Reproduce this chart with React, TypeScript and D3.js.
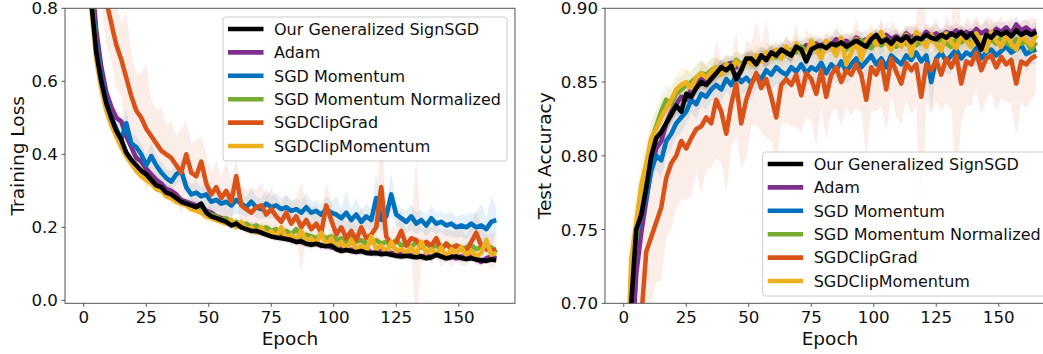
import React from "react";
import * as d3 from "d3";

const epochs = d3.range(1, 166, 2);
const seriesNames = [
  "Our Generalized SignSGD",
  "Adam",
  "SGD Momentum",
  "SGD Momentum Normalized",
  "SGDClipGrad",
  "SGDClipMomentum",
];
const seriesColors = ["#000000", "#7E2F8E", "#0072BD", "#77AC30", "#D95319", "#EDB120"];

// ---------- Training loss (means) ----------
const lossSign = [
  1.10, .82, .68, .60, .54, .50, .465, .44, .405, .385,
  .37, .355, .345, .33, .315, .31, .295, .29, .28, .27,
  .265, .26, .255, .265, .24, .23, .225, .22, .215, .205,
  .21, .20, .195, .19, .19, .185, .18, .175, .172, .17,
  .168, .165, .16, .162, .155, .152, .155, .15, .148, .15,
  .14, .135, .138, .135, .132, .135, .13, .128, .13, .126,
  .128, .125, .122, .12, .122, .12, .118, .12, .115, .118,
  .125, .12, .115, .118, .12, .116, .113, .115, .112, .11,
  .108, .112, .11,
];
const lossAdam = [
  1.2, .9, .74, .64, .57, .53, .50, .49, .45, .42,
  .39, .38, .36, .345, .33, .32, .305, .30, .29, .275,
  .27, .265, .26, .255, .245, .24, .23, .225, .22, .215,
  .21, .205, .20, .20, .19, .195, .185, .18, .185, .175,
  .17, .165, .168, .16, .158, .155, .16, .15, .152, .145,
  .148, .14, .142, .138, .14, .135, .138, .132, .13, .135,
  .128, .13, .125, .128, .13, .122, .125, .12, .122, .118,
  .125, .12, .118, .122, .115, .12, .118, .12, .112, .105,
  .115, .12, .115,
];
const lossMom = [
  1.1, .85, .70, .61, .55, .50, .47, .44, .485, .43,
  .42, .40, .37, .395, .37, .35, .335, .325, .345, .355,
  .31, .29, .295, .285, .29, .27, .275, .265, .27, .26,
  .275, .265, .255, .27, .255, .25, .265, .255, .26, .25,
  .255, .245, .25, .24, .255, .24, .245, .235, .25, .24,
  .235, .225, .24, .22, .235, .215, .23, .22, .28, .22,
  .23, .29, .235, .225, .215, .23, .21, .22, .205, .225,
  .21, .215, .205, .21, .20, .205, .20, .21, .20, .205,
  .195, .215, .22,
];
const lossNorm = [
  1.1, .84, .68, .59, .53, .49, .455, .43, .40, .385,
  .365, .35, .34, .33, .315, .305, .295, .29, .28, .27,
  .265, .26, .25, .245, .24, .235, .23, .22, .225, .21,
  .215, .205, .21, .20, .205, .195, .20, .19, .195, .185,
  .19, .18, .195, .175, .18, .175, .17, .18, .17, .175,
  .165, .17, .16, .175, .16, .165, .155, .16, .165, .155,
  .16, .15, .165, .15, .155, .145, .16, .15, .155, .145,
  .15, .14, .155, .145, .15, .14, .145, .15, .14, .145,
  .14, .145, .13,
];
const lossClipGrad = [
  1.5, 1.25, 1.05, .92, .82, .76, .70, .66, .61, .56,
  .52, .50, .47, .45, .43, .41, .40, .39, .37, .35,
  .40, .35, .34, .38, .32, .29, .31, .28, .30, .27,
  .34, .26, .25, .24, .255, .26, .235, .25, .23, .215,
  .24, .21, .23, .20, .22, .195, .21, .185, .26, .22,
  .18, .20, .17, .19, .165, .20, .17, .18, .20, .31,
  .175, .155, .16, .19, .15, .17, .165, .145, .16, .15,
  .17, .14, .155, .14, .15, .145, .135, .16, .185, .15,
  .14, .135, .14,
];
const lossClipMom = [
  1.05, .80, .66, .58, .52, .48, .45, .42, .395, .375,
  .355, .34, .33, .32, .305, .30, .285, .28, .27, .265,
  .26, .25, .245, .24, .23, .225, .22, .215, .21, .22,
  .20, .215, .195, .20, .185, .20, .18, .19, .175, .20,
  .17, .18, .165, .19, .16, .17, .155, .185, .15, .17,
  .145, .16, .14, .165, .14, .15, .135, .175, .14, .15,
  .13, .16, .135, .14, .13, .145, .125, .16, .13, .14,
  .125, .145, .12, .14, .13, .145, .125, .135, .12, .13,
  .165, .125, .13,
];

// ---------- Training loss (spread) ----------
const lossSignSd = [
  .06, .04, .03, .025, .02, .02, .018, .016, .015, .015,
  .014, .012, .012, .013, .011, .012, .01, .011, .01, .012,
  .01, .011, .01, .012, .01, .009, .011, .01, .009, .01,
  .011, .009, .01, .01, .009, .011, .01, .009, .01, .01,
  .009, .01, .011, .009, .01, .008, .01, .009, .011, .01,
  .009, .01, .008, .01, .009, .011, .009, .008, .01, .009,
  .01, .008, .009, .01, .009, .008, .01, .009, .008, .01,
  .009, .008, .01, .009, .008, .009, .01, .008, .009, .01,
  .008, .009, .008,
];
const lossAdamSd = [
  .08, .05, .04, .03, .025, .022, .02, .018, .017, .016,
  .015, .014, .014, .013, .013, .012, .012, .013, .012, .011,
  .012, .011, .013, .011, .012, .014, .012, .011, .012, .013,
  .012, .011, .012, .014, .011, .013, .011, .012, .015, .012,
  .011, .013, .011, .012, .014, .012, .011, .013, .011, .012,
  .013, .012, .011, .014, .011, .012, .013, .012, .011, .012,
  .011, .013, .012, .012, .011, .014, .011, .012, .013, .012,
  .011, .012, .013, .012, .011, .014, .011, .012, .015, .012,
  .011, .013, .011,
];
const lossMomSd = [
  .08, .05, .04, .035, .03, .03, .03, .03, .04, .03,
  .03, .03, .028, .035, .03, .028, .025, .03, .028, .03,
  .025, .028, .03, .025, .03, .028, .03, .025, .035, .03,
  .04, .03, .028, .035, .03, .028, .04, .03, .035, .03,
  .035, .03, .028, .03, .04, .03, .028, .03, .035, .03,
  .05, .028, .06, .03, .045, .03, .035, .03, .07, .03,
  .035, .06, .03, .028, .03, .035, .03, .028, .03, .035,
  .03, .028, .03, .035, .028, .03, .035, .03, .04, .06,
  .03, .07, .035,
];
const lossNormSd = [
  .08, .05, .04, .03, .025, .022, .02, .018, .016, .015,
  .014, .013, .014, .012, .013, .012, .011, .013, .012, .011,
  .012, .013, .011, .012, .014, .012, .011, .013, .012, .011,
  .013, .012, .011, .014, .012, .011, .013, .012, .011, .012,
  .014, .011, .012, .013, .011, .012, .014, .011, .012, .013,
  .011, .012, .014, .011, .012, .013, .011, .012, .014, .011,
  .012, .013, .011, .012, .014, .011, .012, .013, .011, .012,
  .014, .011, .012, .013, .011, .012, .014, .011, .012, .013,
  .011, .012, .014,
];
const lossClipGradSd = [
  .15, .12, .10, .10, .12, .10, .12, .10, .18, .12,
  .10, .12, .18, .10, .09, .12, .08, .10, .08, .12,
  .09, .08, .10, .07, .08, .06, .07, .06, .08, .06,
  .05, .06, .05, .07, .05, .06, .05, .06, .05, .05,
  .05, .06, .05, .12, .05, .06, .05, .05, .06, .05,
  .04, .05, .04, .05, .04, .06, .05, .04, .05, .20,
  .05, .04, .05, .06, .04, .05, .22, .05, .04, .05,
  .04, .05, .04, .05, .04, .05, .04, .05, .06, .05,
  .04, .05, .04,
];
const lossClipMomSd = [
  .08, .05, .04, .03, .025, .022, .02, .02, .018, .018,
  .016, .015, .016, .014, .015, .014, .013, .015, .014, .013,
  .015, .014, .013, .016, .014, .013, .015, .014, .013, .015,
  .014, .016, .013, .015, .014, .013, .016, .014, .013, .015,
  .014, .013, .016, .014, .013, .015, .014, .016, .013, .015,
  .014, .013, .016, .014, .013, .015, .014, .016, .013, .015,
  .014, .013, .016, .014, .013, .015, .014, .016, .013, .015,
  .014, .013, .016, .014, .013, .015, .014, .016, .013, .015,
  .018, .014, .016,
];

// ---------- Test accuracy (means) ----------
const accSign = [
  .60, .70, .75, .76, .778, .80, .812, .816, .822, .828,
  .834, .83, .842, .84, .846, .85, .848, .852, .856, .86,
  .858, .861, .852, .858, .866, .866, .862, .868, .865, .87,
  .868, .872, .87, .868, .874, .872, .864, .872, .874, .875,
  .873, .876, .875, .877, .874, .876, .878, .876, .874, .879,
  .882, .877, .879, .876, .88, .878, .881, .877, .88, .879,
  .882, .88, .879, .882, .88, .883, .881, .884, .88, .883,
  .878, .872, .882, .88, .884, .882, .884, .881, .885, .882,
  .884, .882, .884,
];
const accAdam = [
  .60, .66, .72, .748, .77, .792, .805, .81, .822, .83,
  .835, .84, .838, .845, .848, .852, .85, .855, .858, .86,
  .862, .863, .86, .862, .865, .864, .866, .868, .865, .87,
  .871, .869, .873, .87, .874, .872, .875, .873, .876, .874,
  .877, .875, .879, .876, .878, .875, .88, .877, .879, .876,
  .88, .878, .882, .879, .881, .878, .883, .88, .882, .879,
  .884, .881, .883, .88, .884, .882, .885, .881, .884, .882,
  .886, .883, .885, .882, .886, .884, .887, .883, .889, .885,
  .887, .884, .885,
];
const accMom = [
  .60, .71, .745, .76, .772, .79, .80, .797, .81, .815,
  .822, .826, .83, .838, .835, .842, .84, .845, .848, .845,
  .852, .848, .855, .85, .853, .849, .855, .852, .858, .855,
  .86, .857, .855, .86, .857, .862, .856, .86, .858, .863,
  .856, .862, .858, .864, .857, .862, .866, .86, .864, .868,
  .862, .866, .86, .868, .865, .862, .868, .865, .87, .864,
  .868, .85, .866, .87, .864, .868, .872, .866, .87, .868,
  .873, .866, .87, .872, .868, .871, .874, .87, .872, .875,
  .869, .871, .872,
];
const accNorm = [
  .62, .71, .745, .77, .79, .81, .82, .83, .838, .835,
  .842, .845, .848, .85, .853, .856, .855, .858, .86, .858,
  .862, .86, .865, .862, .864, .866, .863, .868, .866, .87,
  .867, .871, .869, .872, .87, .874, .871, .875, .872, .87,
  .874, .876, .873, .876, .872, .877, .874, .878, .875, .873,
  .878, .875, .879, .876, .874, .878, .876, .879, .875, .878,
  .876, .88, .877, .879, .876, .874, .879, .877, .88, .876,
  .879, .877, .875, .879, .876, .88, .877, .874, .879, .876,
  .878, .872, .877,
];
const accClipGrad = [
  .55, .60, .64, .69, .735, .745, .755, .765, .785, .795,
  .80, .81, .805, .812, .818, .82, .826, .822, .838, .83,
  .815, .835, .849, .822, .838, .848, .856, .846, .852, .84,
  .826, .848, .852, .848, .855, .841, .856, .852, .842, .858,
  .84, .855, .86, .85, .858, .855, .862, .855, .838, .86,
  .855, .864, .845, .866, .857, .849, .863, .858, .862, .84,
  .862, .858, .865, .855, .866, .86, .868, .849, .864, .862,
  .87, .858, .866, .868, .86, .867, .862, .865, .849, .864,
  .862, .866, .868,
];
const accClipMom = [
  .64, .73, .755, .78, .795, .812, .818, .826, .832, .838,
  .845, .848, .85, .846, .853, .856, .853, .857, .86, .855,
  .862, .858, .864, .86, .866, .862, .868, .864, .87, .866,
  .872, .866, .874, .868, .876, .87, .868, .878, .872, .866,
  .878, .874, .868, .88, .862, .87, .879, .865, .878, .882,
  .875, .884, .877, .872, .88, .874, .882, .868, .884, .878,
  .874, .882, .876, .871, .883, .877, .873, .882, .878, .874,
  .883, .876, .871, .884, .878, .874, .882, .876, .872, .882,
  .878, .875, .882,
];

// ---------- Test accuracy (spread) ----------
const accSignSd = [
  .03, .02, .015, .012, .01, .008, .008, .007, .006, .006,
  .006, .005, .005, .006, .005, .005, .005, .006, .005, .005,
  .005, .004, .005, .005, .004, .005, .005, .004, .005, .005,
  .004, .005, .004, .005, .004, .004, .005, .004, .005, .004,
  .004, .005, .004, .004, .005, .004, .004, .005, .004, .004,
  .005, .004, .004, .005, .004, .004, .005, .004, .004, .005,
  .004, .004, .005, .004, .004, .005, .004, .004, .005, .004,
  .004, .005, .004, .004, .005, .004, .004, .005, .004, .004,
  .005, .004, .004,
];
const accAdamSd = [
  .03, .025, .02, .015, .012, .01, .009, .008, .007, .007,
  .006, .007, .006, .006, .007, .006, .005, .006, .007, .005,
  .006, .005, .006, .007, .005, .006, .005, .006, .007, .005,
  .006, .005, .007, .006, .005, .006, .005, .007, .006, .005,
  .006, .005, .007, .006, .005, .006, .005, .007, .006, .005,
  .006, .005, .007, .006, .005, .006, .005, .007, .006, .005,
  .006, .005, .007, .006, .005, .006, .005, .007, .006, .005,
  .006, .005, .007, .006, .005, .006, .005, .007, .006, .005,
  .006, .005, .006,
];
const accMomSd = [
  .03, .025, .02, .015, .012, .012, .01, .012, .01, .01,
  .009, .01, .008, .009, .01, .008, .009, .008, .01, .009,
  .008, .01, .009, .008, .01, .012, .009, .008, .01, .009,
  .012, .008, .01, .009, .008, .012, .009, .01, .008, .009,
  .01, .008, .009, .012, .008, .01, .009, .008, .01, .009,
  .008, .01, .009, .012, .008, .009, .01, .008, .015, .01,
  .009, .02, .01, .008, .009, .012, .008, .009, .01, .008,
  .012, .009, .008, .01, .009, .012, .008, .009, .01, .009,
  .012, .009, .01,
];
const accNormSd = [
  .03, .025, .02, .018, .015, .012, .012, .012, .01, .01,
  .01, .009, .01, .008, .009, .008, .007, .008, .007, .007,
  .006, .007, .006, .007, .006, .007, .006, .007, .006, .007,
  .006, .007, .006, .007, .006, .007, .006, .007, .006, .007,
  .006, .007, .006, .007, .006, .007, .006, .007, .006, .007,
  .006, .007, .006, .007, .006, .007, .006, .007, .006, .007,
  .006, .007, .006, .007, .006, .007, .006, .007, .006, .007,
  .006, .007, .006, .007, .006, .007, .006, .007, .006, .007,
  .006, .007, .006,
];
const accClipGradSd = [
  .05, .05, .05, .045, .04, .045, .04, .05, .04, .045,
  .035, .04, .035, .04, .03, .045, .035, .03, .04, .035,
  .04, .03, .035, .03, .04, .028, .035, .03, .04, .03,
  .035, .025, .03, .028, .035, .025, .03, .028, .035, .025,
  .03, .025, .028, .03, .025, .028, .03, .025, .04, .028,
  .025, .03, .028, .025, .03, .028, .025, .03, .028, .10,
  .025, .03, .028, .025, .03, .028, .09, .025, .03, .028,
  .025, .03, .028, .025, .03, .028, .025, .03, .035, .028,
  .03, .028, .025,
];
const accClipMomSd = [
  .03, .025, .02, .018, .015, .012, .012, .012, .01, .01,
  .01, .012, .009, .01, .008, .009, .008, .009, .008, .008,
  .007, .008, .007, .008, .007, .008, .007, .008, .007, .008,
  .007, .008, .007, .008, .007, .008, .007, .008, .007, .008,
  .007, .008, .007, .008, .007, .008, .007, .008, .007, .008,
  .007, .008, .007, .008, .007, .008, .007, .008, .007, .008,
  .007, .008, .007, .008, .007, .008, .007, .008, .007, .008,
  .007, .008, .007, .008, .007, .008, .007, .008, .007, .008,
  .007, .008, .007,
];

const lossTicks = [0, 0.2, 0.4, 0.6, 0.8];
const accTicks = [0.7, 0.75, 0.8, 0.85, 0.9];
const epochTicks = [0, 25, 50, 75, 100, 125, 150];

const lossMeans = [lossSign, lossAdam, lossMom, lossNorm, lossClipGrad, lossClipMom];
const lossSds = [lossSignSd, lossAdamSd, lossMomSd, lossNormSd, lossClipGradSd, lossClipMomSd];
const accMeans = [accSign, accAdam, accMom, accNorm, accClipGrad, accClipMom];
const accSds = [accSignSd, accAdamSd, accMomSd, accNormSd, accClipGradSd, accClipMomSd];

const drawOrder = [1, 2, 3, 4, 5, 0];
const FONT = "DejaVu Sans, sans-serif";
const TOP = 8.3;
const W = 450;
const H = 295;
const SPINE = "#555";
const LW = 4.6;

function Legend({ x, y }: { x: number; y: number }) {
  const rowH = 23.4;
  return (
    <g transform={`translate(${x},${y})`}>
      <rect x={0} y={0} width={284} height={144} rx={3} fill="white" fillOpacity={0.85} stroke="#cccccc" strokeWidth={1} />
      {seriesNames.map((n, i) => {
        const cy = 12 + rowH * i;
        return (
          <g key={n}>
            <line x1={5} x2={40.5} y1={cy} y2={cy} stroke={seriesColors[i]} strokeWidth={LW} />
            <text x={51} y={cy} dy="0.36em" fontSize={16} fontFamily={FONT} fill="#111">
              {n}
            </text>
          </g>
        );
      })}
    </g>
  );
}

function Panel(props: {
  id: string;
  left: number;
  yDomain: [number, number];
  yTicks: number[];
  yFmt: (v: number) => string;
  yLabel: string;
  yLabelX: number;
  means: number[][];
  sds: number[][];
  legendX: number;
  legendY: number;
}) {
  const { id, left, yDomain, yTicks, yFmt, yLabel, yLabelX, means, sds, legendX, legendY } = props;
  const x = d3.scaleLinear().domain([-7.5, 172.5]).range([left, left + W]);
  const y = d3.scaleLinear().domain(yDomain).range([TOP + H, TOP]);
  const lineGen = d3
    .line<number>()
    .x((_, i) => x(epochs[i]))
    .y((d) => y(d));
  const areaGen = (m: number[], s: number[]) =>
    d3
      .area<number>()
      .x((_, i) => x(epochs[i]))
      .y0((d, i) => y(d - s[i]))
      .y1((d, i) => y(d + s[i]))(m);
  const bottom = TOP + H;
  return (
    <g>
      <defs>
        <clipPath id={id}>
          <rect x={left} y={TOP} width={W} height={H} />
        </clipPath>
      </defs>
      <g clipPath={`url(#${id})`}>
        {drawOrder.map((k) => (
          <path key={"a" + k} d={areaGen(means[k], sds[k]) || ""} fill={seriesColors[k]} fillOpacity={0.1} stroke="none" />
        ))}
        {drawOrder.map((k) => (
          <path
            key={"l" + k}
            d={lineGen(means[k]) || ""}
            fill="none"
            stroke={seriesColors[k]}
            strokeWidth={LW}
            strokeLinejoin="round"
          />
        ))}
      </g>
      <rect x={left} y={TOP} width={W} height={H} fill="none" stroke={SPINE} strokeWidth={1} />
      {yTicks.map((t) => (
        <g key={"y" + t}>
          <line x1={left - 3.5} x2={left} y1={y(t)} y2={y(t)} stroke={SPINE} strokeWidth={1} />
          <text x={left - 7} y={y(t)} dy="0.36em" textAnchor="end" fontSize={16.7} fontFamily={FONT} fill="#111">
            {yFmt(t)}
          </text>
        </g>
      ))}
      {epochTicks.map((t) => (
        <g key={"x" + t}>
          <line x1={x(t)} x2={x(t)} y1={bottom} y2={bottom + 3.5} stroke={SPINE} strokeWidth={1} />
          <text x={x(t)} y={323.3} textAnchor="middle" fontSize={16.7} fontFamily={FONT} fill="#111">
            {t}
          </text>
        </g>
      ))}
      <text x={left + W / 2} y={345} textAnchor="middle" fontSize={18.5} fontFamily={FONT} fill="#111">
        Epoch
      </text>
      <text
        transform={`translate(${yLabelX},${TOP + H / 2}) rotate(-90)`}
        textAnchor="middle"
        fontSize={18.5}
        fontFamily={FONT}
        fill="#111"
      >
        {yLabel}
      </text>
      <Legend x={legendX} y={legendY} />
    </g>
  );
}

export default function App() {
  const f1 = d3.format(".1f");
  const f2 = d3.format(".2f");
  return (
    <svg
      width={1043}
      height={354}
      style={{ position: "absolute", left: 0, top: 0, background: "white" }}
    >
      <rect x={0} y={0} width={1043} height={354} fill="white" />
      <Panel
        id="clipL"
        left={65}
        yDomain={[-0.0082, 0.8]}
        yTicks={lossTicks}
        yFmt={(v) => f1(v)}
        yLabel="Training Loss"
        yLabelX={24}
        means={lossMeans}
        sds={lossSds}
        legendX={223}
        legendY={17}
      />
      <Panel
        id="clipR"
        left={605}
        yDomain={[0.7, 0.9]}
        yTicks={accTicks}
        yFmt={(v) => f2(v)}
        yLabel="Test Accuracy"
        yLabelX={550.5}
        means={accMeans}
        sds={accSds}
        legendX={762.7}
        legendY={152}
      />
    </svg>
  );
}
